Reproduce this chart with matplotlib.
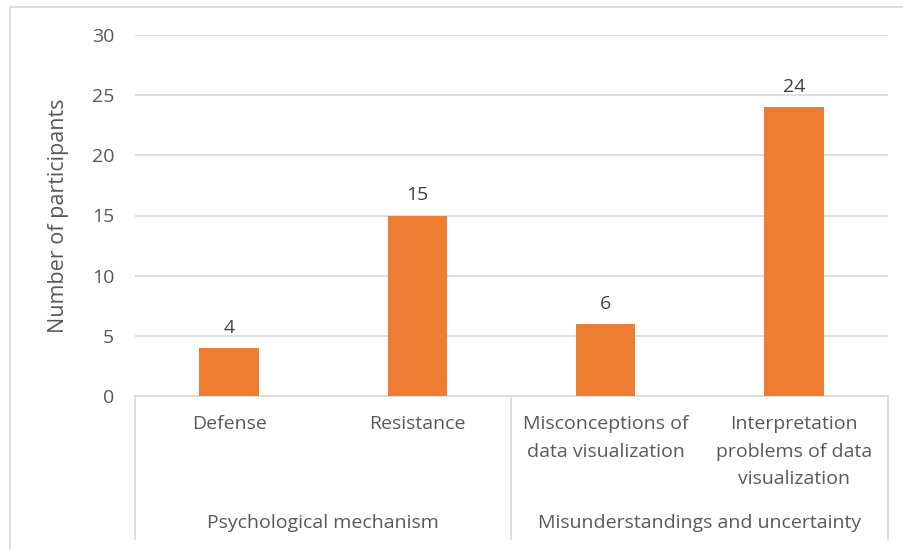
import matplotlib
matplotlib.use("Agg")
import matplotlib.pyplot as plt
from matplotlib.patches import Rectangle
from matplotlib.lines import Line2D
import matplotlib.transforms as mtransforms

plt.rcParams['font.family'] = ['Open Sans', 'DejaVu Sans']

categories = ["Defense", "Resistance", "Misconceptions of\ndata visualization",
              "Interpretation\nproblems of data\nvisualization"]
groups = ["Psychological mechanism", "Misunderstandings and uncertainty"]
group_sizes = [2, 2]
values = [4, 15, 6, 24]
yticks = [0, 5, 10, 15, 20, 25, 30]

BAR = "#ED7D31"
TXT = "#595959"
GRID = "#D9D9D9"
FS = 14

W, H = 904, 550
fig = plt.figure(figsize=(W / 100, H / 100), dpi=100)
left, right, bottom, top = 135 / W, 888 / W, 1 - 396 / H, 1 - 35 / H
ax = fig.add_axes([left, bottom, right - left, top - bottom])

x = list(range(len(values)))
ax.bar(x, values, width=0.315, color=BAR, zorder=3)
for xi, v in zip(x, values):
    ax.annotate(str(v), (xi, v), xytext=(0, 8), textcoords="offset points",
                ha="center", va="bottom", fontsize=FS, color="#404040")

ax.set_xlim(-0.5, len(values) - 0.5)
ax.set_ylim(0, 30)
ax.set_yticks(yticks)
ax.set_yticklabels([str(t) for t in yticks])
ax.tick_params(axis="y", length=0, pad=15, labelsize=FS, labelcolor=TXT)
ax.tick_params(axis="x", length=0, labelbottom=False)
ax.grid(axis="y", color=GRID, linewidth=1.2, zorder=0)
for s in ["top", "right", "left"]:
    ax.spines[s].set_visible(False)
ax.spines["bottom"].set_color(GRID)
ax.spines["bottom"].set_linewidth(1.2)
ax.set_ylabel("Number of participants", fontsize=15.5, color=TXT, labelpad=16)

# Two-level category axis drawn below the plot area
trans = mtransforms.blended_transform_factory(ax.transData, fig.transFigure)
for xi, lab in zip(x, categories):
    ax.text(xi, 1 - 415 / H, lab, transform=trans, ha="center", va="top",
            fontsize=FS, color=TXT, linespacing=1.68)

pos = -0.5
bounds = [pos]
for g, n in zip(groups, group_sizes):
    ax.text(pos + n / 2, 1 - 523 / H, g, transform=trans, ha="center",
            va="center", fontsize=FS, color=TXT)
    pos += n
    bounds.append(pos)
for b in bounds:
    ax.add_line(Line2D([b, b], [1 - 396 / H, 1 - 539 / H], transform=trans,
                       color=GRID, linewidth=1.2, clip_on=False))

# Chart frame
fig.add_artist(Rectangle((10 / W, -0.01), 1.0, 1 - 7 / H + 0.01,
                         transform=fig.transFigure, fill=False,
                         edgecolor="#D9D9D9", linewidth=1.2))

fig.savefig("out.png", dpi=100, facecolor="white")
